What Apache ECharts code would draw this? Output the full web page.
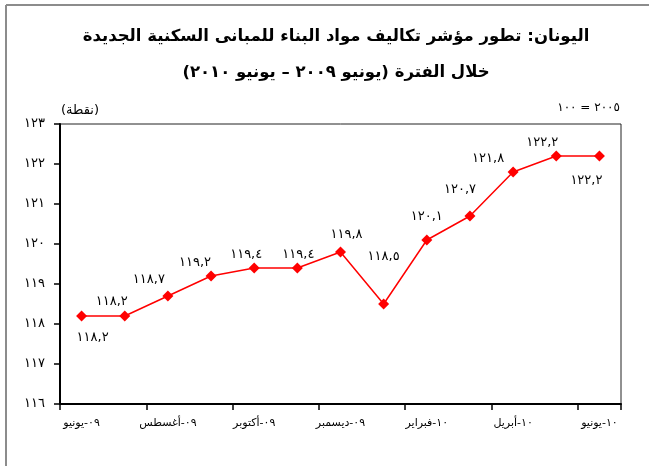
<!DOCTYPE html>
<html>
<head>
<meta charset="utf-8">
<script src="https://cdn.jsdelivr.net/npm/echarts@6/dist/echarts.min.js"></script>
<style>
  html, body { margin: 0; padding: 0; background: #fff; }
  #chart { width: 649px; height: 466px; }
</style>
</head>
<body>
<div id="chart"></div>
<script>
  // الفئات والقيم
  var months = ['يونيو-09', 'يوليو-09', 'أغسطس-09', 'سبتمبر-09', 'أكتوبر-09', 'نوفمبر-09', 'ديسمبر-09',
    'يناير-10', 'فبراير-10', 'مارس-10', 'أبريل-10', 'مايو-10', 'يونيو-10'];
  var indexValues = [118.2, 118.2, 118.7, 119.2, 119.4, 119.4, 119.8, 118.5, 120.1, 120.7, 121.8, 122.2, 122.2];
  var yMin = 116, yMax = 123;

  // إزاحة عناوين القيم عن النقاط
  var labelOffsets = [[11, 22], [-13, -14], [-19, -16], [-16, -13], [-8, -13], [1, -13], [6, -17],
    [0, -47], [0, -23], [-10, -26], [-25, -13], [-14, -13], [-13, 25]];

  var titleLine1 = 'اليونان: تطور مؤشر تكاليف مواد البناء للمبانى السكنية الجديدة';
  var titleLine2 = 'خلال الفترة (يونيو ٢٠٠٩ – يونيو ٢٠١٠)';
  var unitText = '(نقطة)';
  var baseText = '٢٠٠٥ = ١٠٠';

  var RLM = '\u200F', LRM = '\u200E';

  function toArabicDigits(s) {
    return String(s).replace(/[0-9]/g, function (d) {
      return String.fromCharCode(0x660 + Number(d));
    }).replace(/\./g, ',');
  }

  // اسم الشهر يسار والسنة يمين كما في الأصل
  function monthLabel(v) {
    var parts = v.split('-');
    return parts[0] + LRM + '-' + LRM + toArabicDigits(parts[1]);
  }

  var font = 'DejaVu Sans';
  var chart = echarts.init(document.getElementById('chart'));

  var option = {
    animation: false,
    textStyle: {fontFamily: font},
    grid: {left: 60, right: 28, top: 124, bottom: 62, show: true, borderColor: '#222', borderWidth: 1},
    graphic: [
      {type: 'line', shape: {x1: 6, y1: 5, x2: 6, y2: 466}, style: {stroke: '#8c8c8c', lineWidth: 2}},
      {type: 'line', shape: {x1: 6, y1: 5, x2: 649, y2: 5}, style: {stroke: '#8c8c8c', lineWidth: 2}},
      {type: 'text', x: 336, y: 37, style: {text: RLM + titleLine1 + RLM, font: 'bold 16.5px "DejaVu Sans"', fill: '#000', align: 'center', verticalAlign: 'middle'}},
      {type: 'text', x: 336, y: 73, style: {text: RLM + titleLine2 + RLM, font: 'bold 16.5px "DejaVu Sans"', fill: '#000', align: 'center', verticalAlign: 'middle'}},
      {type: 'text', x: 80, y: 111, style: {text: unitText, font: '13px "DejaVu Sans"', fill: '#000', align: 'center', verticalAlign: 'middle'}},
      {type: 'text', x: 620, y: 108, style: {text: RLM + baseText + RLM, font: '12px "DejaVu Sans"', fill: '#000', align: 'right', verticalAlign: 'middle'}}
    ],
    xAxis: {
      type: 'category',
      data: months,
      boundaryGap: true,
      axisLine: {lineStyle: {color: '#000', width: 2}},
      axisTick: {show: true, interval: 1, length: 6, lineStyle: {color: '#000', width: 1.5}},
      axisLabel: {
        interval: 1, margin: 14, color: '#000', fontSize: 11, fontFamily: font,
        formatter: monthLabel
      }
    },
    yAxis: {
      type: 'value',
      min: yMin,
      max: yMax,
      interval: 1,
      splitLine: {show: false},
      axisLine: {show: true, lineStyle: {color: '#000', width: 2}},
      axisTick: {show: true, length: 6, lineStyle: {color: '#000', width: 1.5}},
      axisLabel: {
        margin: 15, color: '#000', fontSize: 13, fontFamily: font,
        formatter: function (v) { return toArabicDigits(v); }
      }
    },
    series: [{
      type: 'line',
      data: indexValues.map(function (v, i) {
        return {value: v, label: {offset: labelOffsets[i]}};
      }),
      symbol: 'diamond',
      symbolSize: 11,
      lineStyle: {color: '#ff0000', width: 1.5},
      itemStyle: {color: '#ff0000'},
      label: {
        show: true,
        position: 'inside',
        color: '#000',
        fontSize: 13,
        fontFamily: font,
        formatter: function (p) { return toArabicDigits(p.value.toFixed(1)); }
      }
    }]
  };

  chart.setOption(option);
</script>
</body>
</html>
